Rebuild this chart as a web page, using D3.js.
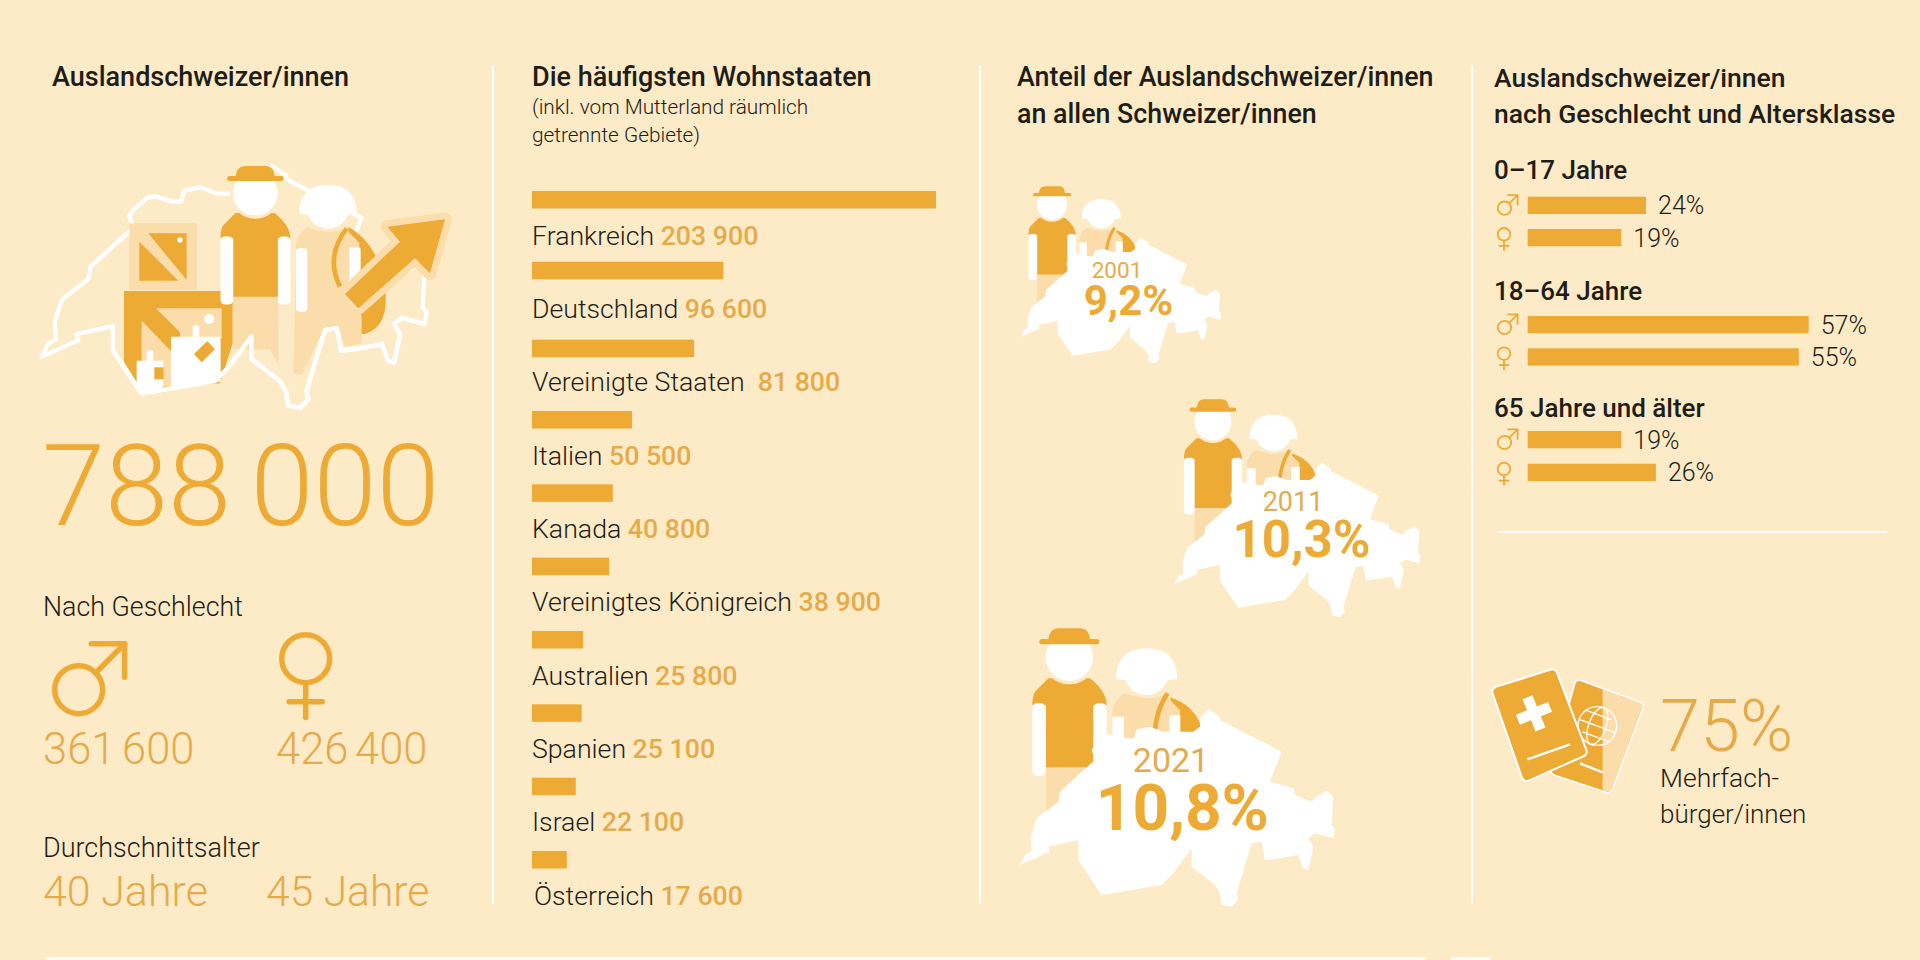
<!DOCTYPE html>
<html>
<head>
<meta charset="utf-8">
<script src="https://cdnjs.cloudflare.com/ajax/libs/d3/7.8.5/d3.min.js"></script>
<style>
  html, body { margin: 0; padding: 0; background: #fdeac6; }
  svg { display: block; }
  text { font-family: Roboto, sans-serif; }
</style>
</head>
<body>
<svg id="chart" width="1920" height="960"></svg>
<script>
// data
var totalLabel = ["788", "000"];
var genderLabels = [["361", "600"], ["426", "400"]];
var ageLabels = ["40 Jahre", "45 Jahre"];

var countries = ["Frankreich", "Deutschland", "Vereinigte Staaten", "Italien", "Kanada",
    "Vereinigtes Königreich", "Australien", "Spanien", "Israel", "Österreich"];
var countryValues = [203900, 96600, 81800, 50500, 40800, 38900, 25800, 25100, 22100, 17600];

var shareYears = ["2001", "2011", "2021"];
var shareValues = [9.2, 10.3, 10.8];

var ageGroups = ["0–17 Jahre", "18–64 Jahre", "65 Jahre und älter"];
var malePercent = [24, 57, 19];
var femalePercent = [19, 55, 26];

// outline of the country, in the units of the biggest map
var swissOutline = [[120,765],[135,735],[155,722],[152,680],[170,625],[235,575],[240,545],[300,490],[345,450],
    [335,420],[345,405],[380,375],[400,372],[440,385],[462,385],[470,358],[510,350],[550,365],[640,365],[660,350],
    [660,325],[685,298],[720,320],[720,330],[905,425],[870,515],[940,535],[945,555],[995,575],[1010,560],[1040,542],
    [1060,560],[1055,645],[1065,655],[1060,685],[1005,670],[985,685],[1000,710],[985,780],[970,775],[955,735],
    [900,745],[855,750],[845,695],[815,700],[770,850],[775,870],[755,890],[725,885],[720,850],[705,825],[635,770],
    [635,715],[580,790],[545,825],[365,855],[295,750],[295,690],[205,710],[210,725]];

var BG = "#fdeac6", DARK = "#edaa35", LIGHT = "#fbdcab", VALUE = "#e5ab4b", INK = "#1f1d15";

var svg = d3.select("#chart");
svg.append("rect").attr("width", 1920).attr("height", 960).attr("fill", BG);

function label(parent, x, y, str, size, weight, fill, anchor) {
    return parent.append("text").attr("x", x).attr("y", y).text(str)
        .attr("font-size", size).attr("font-weight", weight).attr("fill", fill)
        .attr("text-anchor", anchor || "start");
}

// number with a narrow gap between the groups of digits
function groupedNumber(parent, x, y, parts, size, weight, fill, gap) {
    var t = label(parent, x, y, "", size, weight, fill);
    t.append("tspan").text(parts[0] + " ");
    t.append("tspan").attr("dx", gap).text(parts[1]);
    return t;
}

var line = d3.line();

function genderIcon(parent, kind, cx, cy, r, sw) {
    var g = parent.append("g").attr("fill", "none").attr("stroke", DARK)
        .attr("stroke-width", sw).attr("stroke-linecap", "round").attr("stroke-linejoin", "round");
    var c = r - sw / 2;
    g.append("circle").attr("cx", cx).attr("cy", cy).attr("r", c);
    if (kind === "m") {
        var tx = cx + r * 1.72, ty = cy - r * 1.72, arm = r * 1.25;
        g.append("path").attr("d", line([[cx + c * 0.7, cy - c * 0.7], [tx, ty]]));
        g.append("path").attr("d", line([[tx - arm, ty], [tx, ty], [tx, ty + arm]]));
    } else {
        g.append("path").attr("d", line([[cx, cy + c], [cx, cy + r * 2.2]]));
        g.append("path").attr("d", line([[cx - r * 0.62, cy + r * 1.61], [cx + r * 0.62, cy + r * 1.61]]));
    }
}

// dividers and the cut off strip at the bottom
[493, 980, 1472].forEach(function(x) {
    svg.append("line").attr("x1", x).attr("x2", x).attr("y1", 66).attr("y2", 904)
        .attr("stroke", "#fff").attr("stroke-width", 2);
});
[[46, 1380], [1451, 40]].forEach(function(d) {
    svg.append("rect").attr("x", d[0]).attr("y", 957).attr("width", d[1]).attr("height", 3).attr("fill", "#fffdf6");
});

// the two figures, in the units of the biggest map
function drawPeople(g, bag) {
    if (bag) {
        g.append("path").attr("d", "M570,262Q640,285 662,345L680,355L600,400Z").attr("fill", DARK);
    }
    g.append("path").attr("d", "M435,250Q500,275 555,255L600,300L600,420L395,420L397,310Q400,270 435,250Z").attr("fill", LIGHT);
    if (bag) {
        g.append("path").attr("d", "M522,420Q520,310 563,250").attr("fill", "none").attr("stroke", DARK).attr("stroke-width", 14);
    }
    g.append("rect").attr("x", 397).attr("y", 320).attr("width", 35).attr("height", 100).attr("fill", "#fff");
    g.append("rect").attr("x", 568).attr("y", 315).attr("width", 33).attr("height", 100).attr("fill", "#fff");
    g.append("circle").attr("cx", 500).attr("cy", 188).attr("r", 72).attr("fill", "#fff").attr("stroke", BG).attr("stroke-width", 10);
    g.append("path").attr("d", "M408,207Q410,115 500,115Q590,115 592,207L570,210L430,210Z").attr("fill", "#fff");

    g.append("rect").attr("x", 198).attr("y", 465).attr("width", 142).attr("height", 175).attr("fill", LIGHT);
    g.append("path").attr("d", "M205,205L165,245Q157,258 157,285L198,285L198,472L340,472L340,285L380,285Q380,245 330,205Z").attr("fill", DARK);
    g.append("rect").attr("x", 157).attr("y", 280).attr("width", 40).attr("height", 217).attr("rx", 14).attr("fill", "#fff");
    g.append("rect").attr("x", 341).attr("y", 280).attr("width", 39).attr("height", 217).attr("rx", 14).attr("fill", "#fff");
    g.append("circle").attr("cx", 268).attr("cy", 142).attr("r", 76).attr("fill", "#fff").attr("stroke", BG).attr("stroke-width", 10);
    g.append("path").attr("d", "M205,90Q208,55 235,55L302,55Q328,55 330,90Z").attr("fill", DARK);
    g.append("rect").attr("x", 178).attr("y", 87).attr("width", 180).attr("height", 16).attr("rx", 8).attr("fill", DARK);
}

// ---- first column
label(svg, 52, 86, "Auslandschweizer/innen", 27, 500, INK);

var hero = svg.append("g").attr("transform", "translate(0,130) scale(0.3333)");
var outlineScale = { x: d3.scaleLinear().domain([120, 1065]).range([125, 1280]), y: d3.scaleLinear().domain([765, 890]).range([680, 833]) };
var outlinePoints = swissOutline.map(function(p) { return [outlineScale.x(p[0]), outlineScale.y(p[1])]; });
function drawOutline(points, close) {
    hero.append("path").attr("d", line(points) + (close ? "Z" : "")).attr("fill", "none")
        .attr("stroke", "#fff").attr("stroke-width", 13).attr("stroke-linejoin", "round");
}
drawOutline(outlinePoints, true);

// boxes
hero.append("rect").attr("x", 388).attr("y", 280).attr("width", 202).attr("height", 200).attr("fill", LIGHT);
hero.append("path").attr("d", "M445,310L560,310L560,450Z").attr("fill", DARK);
hero.append("path").attr("d", "M418,335L418,452L535,452Z").attr("fill", DARK);
hero.append("circle").attr("cx", 540).attr("cy", 330).attr("r", 8).attr("fill", "#fff");
hero.append("path").attr("d", "M372,483L698,483L698,640L660,760L425,780L372,695Z").attr("fill", DARK);
hero.append("path").attr("d", "M468,535L665,535L665,625L540,625L540,607Z").attr("fill", LIGHT);
hero.append("path").attr("d", "M425,572L515,665L515,770L425,770Z").attr("fill", LIGHT);
hero.append("circle").attr("cx", 628).attr("cy", 567).attr("r", 15).attr("fill", "#fff");
hero.append("rect").attr("x", 578).attr("y", 585).attr("width", 20).attr("height", 50).attr("rx", 10).attr("fill", "#fff");
hero.append("path").attr("d", "M513,620L662,620L662,755L513,770Z").attr("fill", "#fff");
hero.append("path").attr("d", "M622,633L645,658L605,697L582,672Z").attr("fill", DARK);
hero.append("rect").attr("x", 440).attr("y", 660).attr("width", 20).attr("height", 50).attr("rx", 10).attr("fill", "#fff");
hero.append("path").attr("d", "M410,692L490,692L490,772L425,790L410,770Z").attr("fill", "#fff");
hero.append("rect").attr("x", 463).attr("y", 712).attr("width", 28).attr("height", 36).attr("fill", DARK);

// big rucksack and legs
hero.append("path").attr("d", "M1045,290Q1135,340 1155,470Q1170,590 1095,612L1080,612L1080,400L1045,400Z").attr("fill", DARK);
hero.append("path").attr("d", "M890,340L1010,340L1085,560L1085,640L1035,650L1015,590L975,590L905,735L880,730Z").attr("fill", LIGHT);
hero.append("path").attr("d", "M700,500L835,500L835,705L775,590L775,548L755,548L755,590L700,640Z").attr("fill", LIGHT);
var heroPeople = hero.append("g").attr("transform", "translate(766,190) scale(0.94) translate(-268,-142)");
drawPeople(heroPeople, false);
hero.append("path").attr("d", "M1040,295Q975,380 1020,470").attr("fill", "none").attr("stroke", DARK).attr("stroke-width", 14);
hero.append("rect").attr("x", 888).attr("y", 355).attr("width", 34).attr("height", 190).attr("rx", 12).attr("fill", "#fff");
hero.append("rect").attr("x", 1048).attr("y", 355).attr("width", 34).attr("height", 100).attr("fill", "#fff");

// arrow
hero.append("path").attr("d", "M1335,268L1162,290L1200,335L1035,492L1075,535L1245,385L1290,430Z")
    .attr("fill", DARK).attr("stroke", LIGHT).attr("stroke-width", 40).attr("stroke-linejoin", "round").attr("paint-order", "stroke");

// the south edge lies in front of the figures
drawOutline(outlinePoints.slice(34, 57), false);

groupedNumber(svg, 42, 525, totalLabel, 113.5, 300, DARK, -8);
label(svg, 43, 616, "Nach Geschlecht", 26.8, 300, INK);
genderIcon(svg, "m", 78.7, 689.7, 26.7, 5.5);
genderIcon(svg, "f", 305.7, 658.7, 26.7, 5.5);
groupedNumber(svg, 43, 764, genderLabels[0], 43.5, 300, VALUE, -4);
groupedNumber(svg, 276, 764, genderLabels[1], 43.5, 300, VALUE, -4);
label(svg, 43, 857, "Durchschnittsalter", 27, 300, INK);
label(svg, 43, 906, ageLabels[0], 43, 300, VALUE);
label(svg, 266, 906, ageLabels[1], 42.6, 300, VALUE);

// ---- second column
label(svg, 532, 86, "Die häufigsten Wohnstaaten", 27, 500, INK);
label(svg, 532, 114, "(inkl. vom Mutterland räumlich", 20.8, 300, INK);
label(svg, 532, 142, "getrennte Gebiete)", 20.8, 300, INK);

var fmt = d3.formatLocale({ decimal: ",", thousands: " ", grouping: [3], currency: ["", ""] }).format(",d");
var countryX = d3.scaleLinear().domain([0, countryValues[0]]).range([0, 404]);
var baselineY = d3.scaleLinear().domain([0, countries.length - 1]).range([244.7, 904.7]);

var rows = svg.append("g").selectAll("g").data(countries).enter().append("g");
rows.append("rect")
    .attr("x", 532)
    .attr("y", function(d, i) { return baselineY(i) - 53.7 + (i === 1 ? -2.5 : i === 2 ? 2 : 0); })
    .attr("width", function(d, i) { return countryX(countryValues[i]); })
    .attr("height", 17.5)
    .attr("fill", DARK);
var rowText = rows.append("text")
    .attr("x", function(d, i) { return i === 9 ? 534 : 532; })
    .attr("y", function(d, i) { return baselineY(i); })
    .attr("font-size", 26.7);
rowText.append("tspan").attr("font-weight", 300).attr("fill", INK)
    .text(function(d, i) { return d + (i === 2 ? "\u00a0\u00a0" : "\u00a0"); });
rowText.append("tspan").attr("font-weight", 500).attr("fill", VALUE)
    .text(function(d, i) { return fmt(countryValues[i]); });

// ---- third column
label(svg, 1017, 86, "Anteil der Auslandschweizer/innen", 26.8, 500, INK);
label(svg, 1017, 123, "an allen Schweizer/innen", 26.8, 500, INK);

var mapScales = [0.212, 0.2607, 0.3333];
var mapOrigins = [[1020.7 - 120 * 0.212, 336.7 - 765 * 0.212], [1174.3 - 120 * 0.2607, 584.3 - 765 * 0.2607], [980, 610]];
var yearPos = [[1117, 278, 22.5], [1293, 511, 27], [1171, 772, 34]];
var sharePos = [[1128.5, 315, 42], [1301.5, 556.7, 51], [1182.3, 830, 64]];

shareYears.forEach(function(year, i) {
    var g = svg.append("g").attr("transform", "translate(" + mapOrigins[i] + ") scale(" + mapScales[i] + ")");
    drawPeople(g, true);
    g.append("path").attr("d", line(swissOutline) + "Z").attr("fill", "#fff");
    label(svg, yearPos[i][0], yearPos[i][1], year, yearPos[i][2], 400, VALUE, "middle");
    label(svg, sharePos[i][0], sharePos[i][1], shareValues[i].toFixed(1).replace(".", ",") + "%", sharePos[i][2], 700, DARK, "middle");
});

// ---- fourth column
label(svg, 1494, 86.5, "Auslandschweizer/innen", 26.5, 500, INK);
label(svg, 1494, 122.5, "nach Geschlecht und Altersklasse", 26.5, 500, INK);

var pctX = d3.scaleLinear().domain([0, 57]).range([0, 281]);
var groupHead = [178.7, 300, 416.7];
var maleBarTop = [196.7, 316, 431];
var femaleBarTop = [229, 348.3, 463.7];

ageGroups.forEach(function(name, i) {
    label(svg, 1494, groupHead[i], name, 26, 500, INK);
    [[malePercent[i], maleBarTop[i], "m"], [femalePercent[i], femaleBarTop[i], "f"]].forEach(function(d) {
        var w = pctX(d[0]);
        svg.append("rect").attr("x", 1527.7).attr("y", d[1]).attr("width", w).attr("height", 17.3).attr("fill", DARK);
        label(svg, 1527.7 + w + 12, d[1] + 17.5, d[0] + "%", 25, 300, INK);
        if (d[2] === "m") {
            genderIcon(svg, "m", 1504.5, d[1] + 11.5, 7.6, 1.8);
        } else {
            genderIcon(svg, "f", 1504, d[1] + 5.3, 7.2, 1.8);
        }
    });
});

svg.append("line").attr("x1", 1498).attr("x2", 1887).attr("y1", 532).attr("y2", 532).attr("stroke", "#fff").attr("stroke-width", 2);

// passports
var pass = svg.append("g").attr("transform", "translate(1470,640) scale(0.3333)");
pass.append("clipPath").attr("id", "passRight").append("rect").attr("x", 398).attr("y", 0).attr("width", 200).attr("height", 500);
var backPath = "M328,135L505,200L413,443L258,392Z";
pass.append("path").attr("d", backPath).attr("fill", "#fff").attr("stroke", "#fff").attr("stroke-width", 34).attr("stroke-linejoin", "round");
pass.append("path").attr("d", backPath).attr("fill", DARK).attr("stroke", DARK).attr("stroke-width", 24).attr("stroke-linejoin", "round");
pass.append("path").attr("d", backPath).attr("fill", LIGHT).attr("stroke", LIGHT).attr("stroke-width", 24).attr("stroke-linejoin", "round").attr("clip-path", "url(#passRight)");
pass.append("path").attr("d", "M330,370L398,397").attr("stroke", "#fff").attr("stroke-width", 7);
var globe = pass.append("g").attr("fill", "none").attr("stroke", "#fff").attr("stroke-width", 4);
globe.append("circle").attr("cx", 382).attr("cy", 258).attr("r", 58);
globe.append("ellipse").attr("cx", 382).attr("cy", 258).attr("rx", 26).attr("ry", 58).attr("transform", "rotate(20 382 258)");
globe.append("line").attr("x1", 328).attr("y1", 238).attr("x2", 436).attr("y2", 278);
globe.append("line").attr("x1", 345).attr("y1", 210).attr("x2", 425).attr("y2", 240);
globe.append("line").attr("x1", 338).attr("y1", 276).attr("x2", 418).attr("y2", 306);
var frontPath = "M82,155L247,103L335,335L170,408Z";
pass.append("path").attr("d", frontPath).attr("fill", "#fff").attr("stroke", "#fff").attr("stroke-width", 36).attr("stroke-linejoin", "round");
pass.append("path").attr("d", frontPath).attr("fill", DARK).attr("stroke", DARK).attr("stroke-width", 24).attr("stroke-linejoin", "round");
pass.append("g").attr("transform", "translate(192,220) rotate(-22)").call(function(g) {
    g.append("rect").attr("x", -52).attr("y", -16).attr("width", 104).attr("height", 32).attr("fill", "#fff");
    g.append("rect").attr("x", -16).attr("y", -52).attr("width", 32).attr("height", 104).attr("fill", "#fff");
});
pass.append("path").attr("d", "M172,358L300,313").attr("stroke", "#fff").attr("stroke-width", 7);

label(svg, 1660, 751, "75%", 72, 300, VALUE);
label(svg, 1660, 787, "Mehrfach-", 26.5, 300, INK);
label(svg, 1660, 823, "bürger/innen", 26, 300, INK);
</script>
</body>
</html>
